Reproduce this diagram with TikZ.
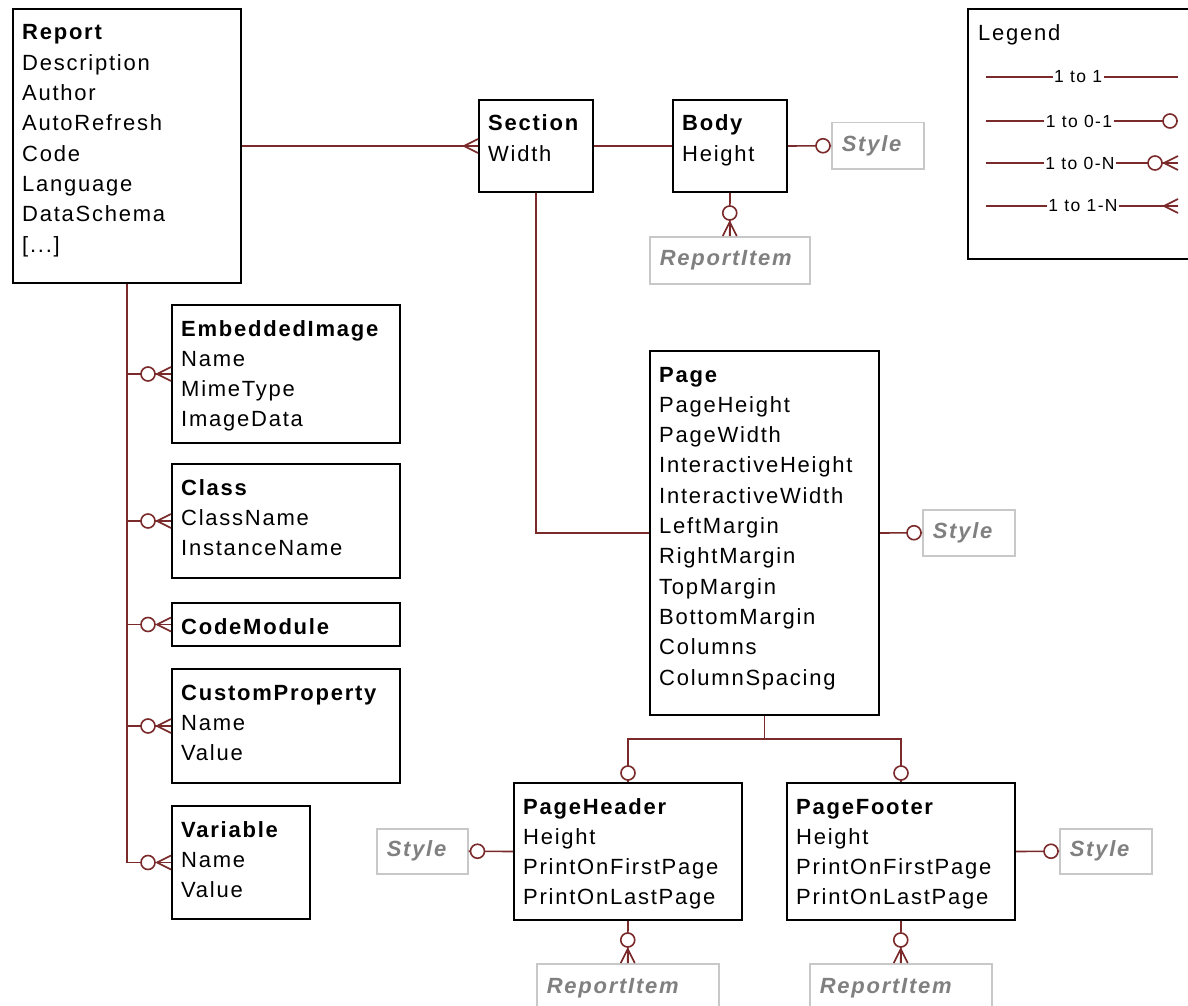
\documentclass[tikz,border=0pt]{standalone}
\usepackage{fontspec}
\setmainfont{Liberation Sans}[LetterSpace=8]

\definecolor{linkred}{RGB}{122,42,42}
\definecolor{refgray}{RGB}{128,128,128}
\definecolor{refline}{RGB}{200,200,200}

\tikzset{
	entitybox/.style={draw=black, line width=2pt, anchor=north west, inner sep=0pt},
	fieldtext/.style={anchor=base west, inner sep=0pt, font=\fontsize{22}{30.3}\selectfont},
	refbox/.style={draw=refline, line width=1.5pt, anchor=north west, inner xsep=10pt, inner ysep=0pt, align=left, text=refgray, font=\fontsize{22}{26}\selectfont\bfseries\itshape},
	conn/.style={draw=linkred, line width=1.6pt},
	legendlabel/.style={fill=white, inner xsep=1.5pt, inner ysep=0pt, font=\fontsize{17.5}{20}\selectfont}
}

\newcommand{\entity}[7]{
	\node[entitybox, minimum width=#4pt, minimum height=#5pt] (#1) at (#2,#3) {};
	\node[fieldtext] (#1-t) at ([xshift=10pt, yshift=-32pt]#1.north west) {\parbox[t]{#4pt}{\textbf{#6}#7}};
}

\newcommand{\crowfoot}[2]{
	\begin{scope}[shift={#1}, rotate=#2]
		\draw[conn] (0pt,-7pt) -- (14pt,0pt) -- (0pt,7pt);
		\draw[conn] (0pt,0pt) -- (14pt,0pt);
	\end{scope}
}

\newcommand{\optcircle}[3]{
	\begin{scope}[shift={#1}, rotate=#2]
		\draw[conn, fill=white] (#3pt,0pt) circle (7pt);
	\end{scope}
}

\newcommand{\zeromany}[2]{
	\optcircle{#1}{#2}{23}
	\crowfoot{#1}{#2}
}

\begin{document}
\begin{tikzpicture}[x=1pt, y=-1pt]
\useasboundingbox (0,0) rectangle (1188,1006);
\fill[white] (0,0) rectangle (1188,1006);

\entity{report}{12}{8}{228}{274}{Report}{\\Description\\Author\\AutoRefresh\\Code\\Language\\DataSchema\\{[...]}}
\entity{section}{478}{99}{114}{92}{Section}{\\Width}
\entity{body}{672}{99}{114}{92}{Body}{\\Height}
\entity{embimg}{171}{304}{228}{138}{EmbeddedImage}{\\Name\\MimeType\\ImageData}
\entity{class}{171}{463}{228}{114}{Class}{\\ClassName\\InstanceName}
\entity{codemod}{171}{602}{228}{43}{CodeModule}{}
\entity{custprop}{171}{668}{228}{114}{CustomProperty}{\\Name\\Value}
\entity{variable}{171}{805}{138}{113}{Variable}{\\Name\\Value}
\entity{page}{649}{350}{229}{364}{Page}{\\PageHeight\\PageWidth\\InteractiveHeight\\InteractiveWidth\\LeftMargin\\RightMargin\\TopMargin\\BottomMargin\\Columns\\ColumnSpacing}
\entity{header}{513}{782}{228}{137}{PageHeader}{\\Height\\PrintOnFirstPage\\PrintOnLastPage}
\entity{footer}{786}{782}{228}{137}{PageFooter}{\\Height\\PrintOnFirstPage\\PrintOnLastPage}

\node[refbox, text width=72pt, minimum height=46pt] (style1) at (831,122) {Style};
\node[refbox, text width=140pt, minimum height=47pt] (ritem1) at (649,236) {ReportItem};
\node[refbox, text width=72pt, minimum height=46pt] (style2) at (922,509) {Style};
\node[refbox, text width=71pt, minimum height=45pt] (style3) at (376,828) {Style};
\node[refbox, text width=162pt, minimum height=48pt] (ritem2) at (536,963) {ReportItem};
\node[refbox, text width=72pt, minimum height=45pt] (style4) at (1059,828) {Style};
\node[refbox, text width=162pt, minimum height=48pt] (ritem3) at (809,963) {ReportItem};

\node[entitybox, minimum width=240pt, minimum height=250pt] (legend) at (967,8) {};
\node[fieldtext] (legend-t) at ([xshift=11pt, yshift=-33pt]legend.north west) {Legend};
\foreach \row/\ly/\lab/\lx in {one/77/1 to 1/1078, opt/121/1 to 0-1/1079, zmany/163/1 to 0-N/1080, omany/206/1 to 1-N/1083} {
	\coordinate (\row-a) at (986,\ly);
	\coordinate (\row-b) at (1178,\ly);
	\draw[conn] (\row-a) -- (\row-b);
	\node[legendlabel] (\row-l) at (\lx,\ly) {\lab};
}
\optcircle{(opt-b)}{180}{8}
\zeromany{(zmany-b)}{180}
\crowfoot{(omany-b)}{180}

\draw[conn] (report.east) -- (section.west);
\crowfoot{(section.west)}{180}
\draw[conn] (section.east) -- (body.west);
\draw[conn] (body.east) -- (style1.west);
\optcircle{(style1.west)}{180}{8}
\draw[conn] (body.south) -- (ritem1.north);
\zeromany{(ritem1.north)}{90}

\draw[conn] (section.south) |- (page.west);
\draw[conn] (page.east) -- (style2.west);
\optcircle{(style2.west)}{180}{8}
\coordinate (split) at ([yshift=-23pt]page.south);
\draw[conn] (page.south) -- (split);
\draw[conn] (split) -| (header.north);
\draw[conn] (split) -| (footer.north);
\optcircle{(header.north)}{90}{9}
\optcircle{(footer.north)}{90}{9}
\draw[conn] (header.west) -- (style3.east);
\optcircle{(style3.east)}{0}{9}
\draw[conn] (header.south) -- (ritem2.north);
\zeromany{(ritem2.north)}{90}
\draw[conn] (footer.east) -- (style4.west);
\optcircle{(style4.west)}{180}{8}
\draw[conn] (footer.south) -- (ritem3.north);
\zeromany{(ritem3.north)}{90}

\draw[conn] (report.south) |- (variable.west);
\foreach \ent in {embimg, class, codemod, custprop}
	\draw[conn] (report.south |- \ent.west) -- (\ent.west);
\foreach \ent in {embimg, class, codemod, custprop, variable} {
	\zeromany{(\ent.west)}{180}
}
\end{tikzpicture}
\end{document}
